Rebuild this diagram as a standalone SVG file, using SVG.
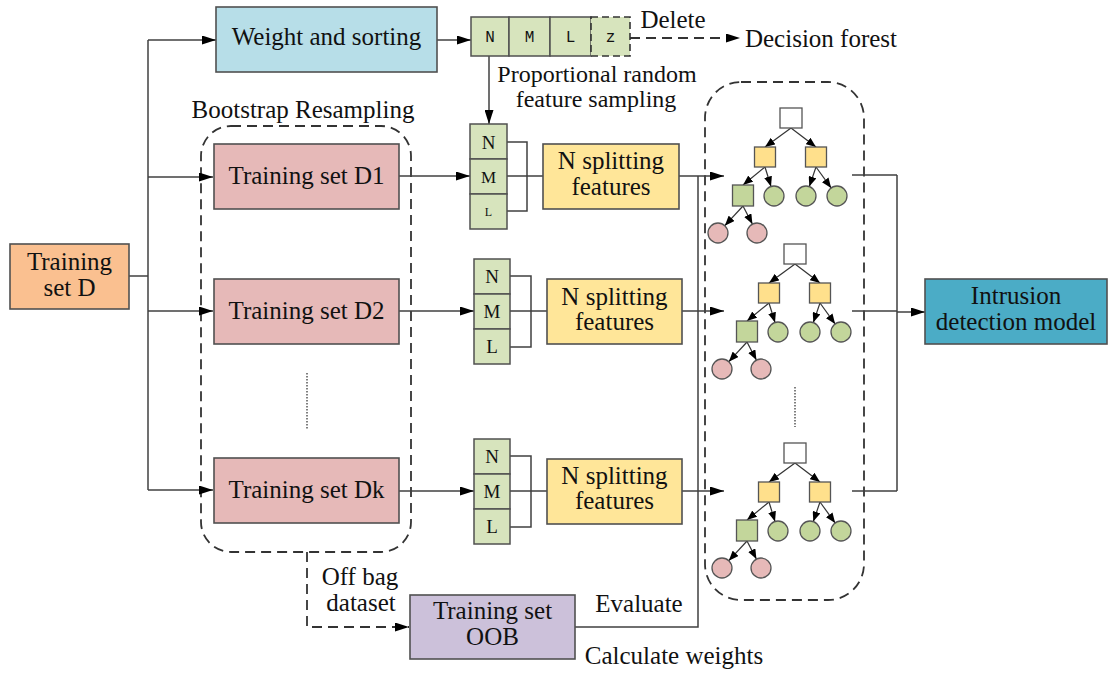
<svg xmlns="http://www.w3.org/2000/svg" xmlns:xlink="http://www.w3.org/1999/xlink" width="1108" height="675" viewBox="0 0 1108 675">
<style>
text{font-family:"Liberation Serif","Times New Roman",serif;font-size:25px;fill:#111;text-anchor:middle}
.box{stroke:#505050;stroke-width:1.6}
.ln{fill:none;stroke:#404040;stroke-width:1.5}
.dash{fill:none;stroke:#333;stroke-width:1.8;stroke-dasharray:10 6}
.cell{fill:#D7E4BD;stroke:#505050;stroke-width:1.5}
.lt{font-size:19px}
.mono{font-family:"Liberation Mono","Courier New",monospace;font-size:16px}
.sm{font-size:24px}
.te{fill:none;stroke:#333;stroke-width:1.2}
.tn{stroke:#555;stroke-width:1.3}
</style>
<defs>
<marker id="a" viewBox="0 0 10 10" refX="10" refY="5" markerWidth="14" markerHeight="9" markerUnits="userSpaceOnUse" orient="auto" preserveAspectRatio="none"><path d="M0,0 L10,5 L0,10 z" fill="#000"/></marker>
<marker id="s" viewBox="0 0 10 10" refX="10" refY="5" markerWidth="10" markerHeight="8" markerUnits="userSpaceOnUse" orient="auto" preserveAspectRatio="none"><path d="M0,0 L10,5 L0,10 z" fill="#000"/></marker>
<g id="tree">
<g class="te" marker-end="url(#s)">
<line x1="0" y1="10" x2="-26" y2="29"/>
<line x1="0" y1="10" x2="25" y2="29"/>
<line x1="-26" y1="49" x2="-48" y2="67"/>
<line x1="-26" y1="49" x2="-20" y2="68.5"/>
<line x1="25" y1="49" x2="18.3" y2="68.6"/>
<line x1="25" y1="49" x2="40.1" y2="69.9"/>
<line x1="-48" y1="88" x2="-66.2" y2="107.7"/>
<line x1="-48" y1="88" x2="-38.6" y2="106.1"/>
</g>
<rect class="tn" x="-11" y="-10" width="22" height="20" fill="#fff"/>
<rect class="tn" x="-36.5" y="29" width="21" height="20" fill="#FFE08C"/>
<rect class="tn" x="14.5" y="29" width="21" height="20" fill="#FFE08C"/>
<rect class="tn" x="-58.5" y="67" width="21" height="21" fill="#C3D69B"/>
<circle class="tn" cx="-17" cy="78" r="10" fill="#C3D69B"/>
<circle class="tn" cx="15" cy="78" r="10" fill="#C3D69B"/>
<circle class="tn" cx="46" cy="78" r="10" fill="#C3D69B"/>
<circle class="tn" cx="-73" cy="115" r="10" fill="#E6B9B8"/>
<circle class="tn" cx="-34" cy="115" r="10" fill="#E6B9B8"/>
</g>
</defs>
<rect width="1108" height="675" fill="#fff"/>

<!-- containers -->
<g id="bootstrap-group">
<rect class="dash" x="201" y="126" width="210" height="426" rx="30" ry="30"/>
<text x="303" y="118">Bootstrap Resampling</text>
<line x1="307" y1="373" x2="307" y2="430" stroke="#555" stroke-width="1.5" stroke-dasharray="1.5 1.5"/>
</g>
<g id="forest-group">
<rect class="dash" x="705" y="82" width="159" height="518" rx="36" ry="36"/>
<line x1="795" y1="387" x2="795" y2="427" stroke="#555" stroke-width="1.5" stroke-dasharray="1.5 1.5"/>
</g>

<!-- connectors -->
<g id="connectors">
<path class="ln" d="M129,276 H148"/>
<path class="ln" d="M148,40 V490"/>
<path class="ln" d="M148,40 H216" marker-end="url(#a)"/>
<path class="ln" d="M148,177 H213" marker-end="url(#a)"/>
<path class="ln" d="M148,311 H213" marker-end="url(#a)"/>
<path class="ln" d="M148,490 H213" marker-end="url(#a)"/>
<path class="ln" d="M437,40 H471" marker-end="url(#a)"/>
<path class="dash" d="M630,38 H740" marker-end="url(#a)"/>
<path class="ln" d="M489,56 V124" marker-end="url(#a)"/>
<path class="ln" d="M399,176 H470" marker-end="url(#a)"/>
<path class="ln" d="M399,311 H474" marker-end="url(#a)"/>
<path class="ln" d="M399,491 H474" marker-end="url(#a)"/>
<path class="ln" d="M507,142 H527 V211 H507 M507,176 H543"/>
<path class="ln" d="M510,276 H531 V347 H510 M510,311 H547"/>
<path class="ln" d="M510,456 H531 V527 H510 M510,491 H547"/>
<path class="ln" d="M679,176 H724" marker-end="url(#a)"/>
<path class="ln" d="M682,311 H724" marker-end="url(#a)"/>
<path class="ln" d="M682,491 H724" marker-end="url(#a)"/>
<path class="ln" d="M575,627 H698 V176"/>
<path class="dash" d="M307,552 V627 H409" marker-end="url(#a)"/>
<path class="ln" d="M852,175 H897 M852,311 H897 M852,491 H897 M897,175 V491"/>
<path class="ln" d="M897,312 H925" marker-end="url(#a)"/>
</g>

<!-- nodes -->
<g id="training-set-d">
<rect class="box" x="10" y="244" width="119" height="65" fill="#FAC090"/>
<text x="69.5" y="270">Training</text>
<text x="69.5" y="296">set D</text>
</g>
<g id="weight-sorting">
<rect class="box" x="216" y="7" width="221" height="65" fill="#B7DEE8"/>
<text x="326.5" y="45">Weight and sorting</text>
</g>
<g id="feature-row">
<rect class="cell" x="471" y="17" width="38" height="39"/>
<rect class="cell" x="509" y="17" width="41" height="39"/>
<rect class="cell" x="550" y="17" width="41" height="39"/>
<rect x="591" y="17" width="39" height="39" fill="#D7E4BD" stroke="#333" stroke-width="1.6" stroke-dasharray="7 4"/>
<text class="mono" x="490" y="42">N</text>
<text class="mono" x="529.5" y="42">M</text>
<text class="mono" x="570.5" y="42">L</text>
<text class="mono" x="610.5" y="42">z</text>
</g>
<g id="labels-top">
<text x="673" y="28">Delete</text>
<text x="821" y="47">Decision forest</text>
<text class="sm" x="597" y="82">Proportional random</text>
<text class="sm" x="596" y="107">feature sampling</text>
</g>
<g id="training-set-d1">
<rect class="box" x="214" y="144" width="185" height="65" fill="#E6B9B8"/>
<text x="306.5" y="184">Training set D1</text>
</g>
<g id="training-set-d2">
<rect class="box" x="214" y="279" width="185" height="65" fill="#E6B9B8"/>
<text x="306.5" y="319">Training set D2</text>
</g>
<g id="training-set-dk">
<rect class="box" x="214" y="458" width="185" height="65" fill="#E6B9B8"/>
<text x="306.5" y="498">Training set Dk</text>
</g>
<g id="stack-1">
<rect class="cell" x="470" y="124" width="37" height="35"/>
<rect class="cell" x="470" y="159" width="37" height="35"/>
<rect class="cell" x="470" y="194" width="37" height="35"/>
<text class="lt" x="488.5" y="149">N</text>
<text class="lt" x="488.5" y="183" style="font-size:17px">M</text>
<text class="lt" x="488.5" y="216" style="font-size:12px">L</text>
</g>
<g id="stack-2">
<rect class="cell" x="474" y="259" width="36" height="35"/>
<rect class="cell" x="474" y="294" width="36" height="35"/>
<rect class="cell" x="474" y="329" width="36" height="35"/>
<text class="lt" x="492" y="283">N</text>
<text class="lt" x="492" y="318">M</text>
<text class="lt" x="492" y="353">L</text>
</g>
<g id="stack-3">
<rect class="cell" x="474" y="439" width="36" height="35"/>
<rect class="cell" x="474" y="474" width="36" height="35"/>
<rect class="cell" x="474" y="509" width="36" height="35"/>
<text class="lt" x="492" y="463">N</text>
<text class="lt" x="492" y="498">M</text>
<text class="lt" x="492" y="533">L</text>
</g>
<g id="split-1">
<rect class="box" x="543" y="144" width="136" height="65" fill="#FFE699"/>
<text x="611" y="169">N splitting</text>
<text x="611" y="195">features</text>
</g>
<g id="split-2">
<rect class="box" x="547" y="279" width="135" height="65" fill="#FFE699"/>
<text x="614.5" y="305">N splitting</text>
<text x="614.5" y="330">features</text>
</g>
<g id="split-3">
<rect class="box" x="547" y="459" width="135" height="65" fill="#FFE699"/>
<text x="614.5" y="484">N splitting</text>
<text x="614.5" y="509">features</text>
</g>
<g id="tree-1"><use xlink:href="#tree" href="#tree" transform="translate(791,118)"/></g>
<g id="tree-2"><use xlink:href="#tree" href="#tree" transform="translate(795,254)"/></g>
<g id="tree-3"><use xlink:href="#tree" href="#tree" transform="translate(795,453)"/></g>
<g id="intrusion-model">
<rect class="box" x="925" y="279" width="182" height="65" fill="#4BACC6"/>
<text x="1016" y="304">Intrusion</text>
<text x="1016" y="330">detection model</text>
</g>
<g id="training-set-oob">
<rect class="box" x="410" y="595" width="165" height="64" fill="#CCC1DA"/>
<text x="492.5" y="619">Training set</text>
<text x="492.5" y="645">OOB</text>
</g>
<g id="labels-bottom">
<text x="360" y="585">Off bag</text>
<text x="361" y="611">dataset</text>
<text x="639" y="612">Evaluate</text>
<text x="674" y="664">Calculate weights</text>
</g>
</svg>
